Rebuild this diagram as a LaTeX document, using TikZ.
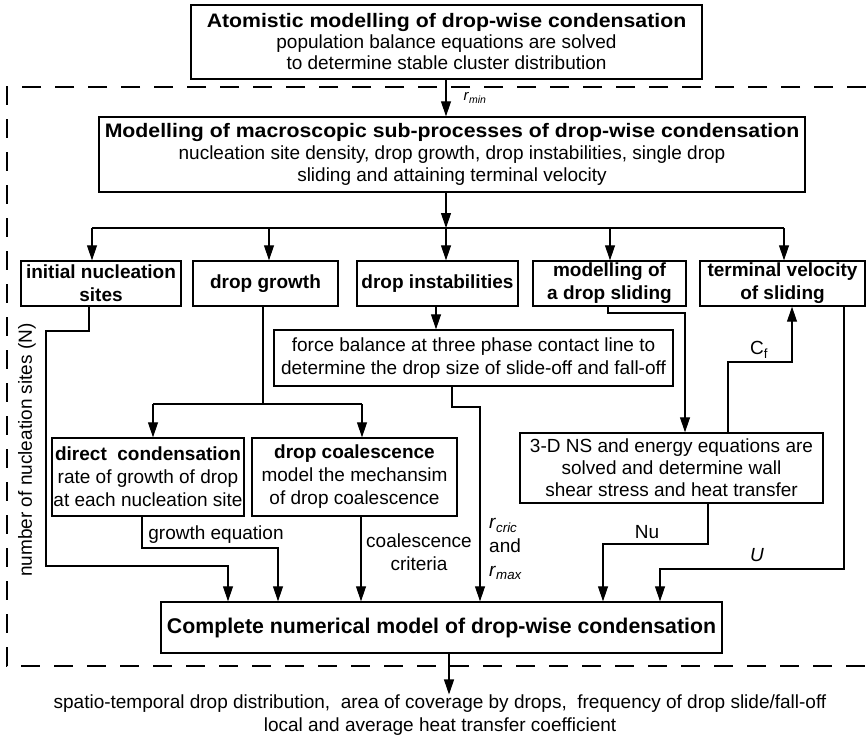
\documentclass[tikz,border=0pt]{standalone}
\usepackage{fontspec}
\setmainfont{Liberation Sans}
\newfontfamily\wideb{Liberation Sans}[FakeStretch=1.09]
\usetikzlibrary{arrows.meta}
\begin{document}
\begin{tikzpicture}[x=1pt,y=-1pt,
  box/.style={draw,line width=1.4pt,inner sep=0pt,align=center,font=\fontsize{19}{21}\selectfont},
  bbox/.style={box,font=\fontsize{19}{23}\selectfont\bfseries},
  conn/.style={line width=1.1pt},
  arr/.style={conn,-{Triangle[length=15pt,width=10pt]}},
  lbl/.style={font=\fontsize{19}{23}\selectfont,align=center,inner sep=0pt},
  frame/.style={line width=1.3pt,dash pattern=on 19pt off 14pt}]
\useasboundingbox (0,0) rectangle (866,740);

% dashed frame
\draw[frame] (866,87) -- (7,87) -- (7,666) -- (866,666);

% boxes
\node[box,minimum width=511pt,minimum height=74pt] (top) at (446.5,42)
  {{\wideb\bfseries\fontsize{19.5}{21}\selectfont Atomistic modelling of drop-wise condensation}\\population balance equations are solved\\to determine stable cluster distribution};
\node[box,minimum width=706pt,minimum height=75pt,font=\fontsize{19}{22}\selectfont] (second) at (452,154.5)
  {{\wideb\bfseries\fontsize{19.5}{26}\selectfont Modelling of macroscopic sub-processes of drop-wise condensation}\\nucleation site density, drop growth, drop instabilities, single drop\\sliding and attaining terminal velocity};
\node[bbox,minimum width=160pt,minimum height=45pt] (init) at (101,283.5) {initial nucleation\\sites};
\node[bbox,minimum width=145pt,minimum height=45pt] (growth) at (265.5,283.5) {drop growth};
\node[bbox,minimum width=161pt,minimum height=45pt] (instab) at (437.5,283.5) {drop instabilities};
\node[bbox,minimum width=153pt,minimum height=45pt] (slide) at (609.5,283.5) {modelling of\\a drop sliding};
\node[bbox,minimum width=165pt,minimum height=45pt] (term) at (782.5,283.5) {terminal velocity\\of sliding};
\node[box,minimum width=399pt,minimum height=56pt,font=\fontsize{19}{23}\selectfont] (force) at (473.5,358)
  {force balance at three phase contact line to\\determine the drop size of slide-off and fall-off};
\node[box,minimum width=192pt,minimum height=78pt,font=\fontsize{19}{23}\selectfont] (direct) at (148,477)
  {\textbf{direct\ \ condensation}\\rate of growth of drop\\at each nucleation site};
\node[box,minimum width=205pt,minimum height=78pt,font=\fontsize{19}{23}\selectfont] (coal) at (354.5,477)
  {\textbf{drop coalescence}\\model the mechansim\\of drop coalescence};
\node[box,minimum width=303pt,minimum height=70pt,font=\fontsize{19}{22}\selectfont] (ns) at (671.5,468)
  {3-D NS and energy equations are\\solved and determine wall\\shear stress and heat transfer};
\node[box,minimum width=561pt,minimum height=51pt,font=\fontsize{21.3}{24}\selectfont\bfseries] (complete) at (441.5,627.5)
  {Complete numerical model of drop-wise condensation};
\node[lbl] (out) at (440,715)
  {spatio-temporal drop distribution,\ \ area of coverage by drops,\ \ frequency of drop slide/fall-off\\local and average heat transfer coefficient};

% x positions
\coordinate (xa) at (446,0);
\coordinate (xi) at (436,0);
\coordinate (xn) at (89,0);
\coordinate (xg) at (263,0);
\coordinate (xd1) at (153,0);
\coordinate (xd2) at (362,0);
\coordinate (xdc) at (142,0);
\coordinate (xcs) at (361,0);
\coordinate (xf) at (452,0);
\coordinate (xs) at (608,0);
\coordinate (xcf) at (728,0);
\coordinate (xnu) at (708,0);
\coordinate (xu) at (844,0);
\coordinate (xo) at (449,0);
\coordinate (c1) at (228,0);
\coordinate (c2) at (278,0);
\coordinate (c4) at (480,0);
\coordinate (c5) at (603,0);
\coordinate (c6) at (660,0);
\coordinate (tc) at (792,0);
\coordinate (nsc) at (685,0);

% top connectors
\draw[arr] (top.south -| xa) -- (second.north -| xa);
\node[inner sep=0pt,font=\fontsize{15}{15}\selectfont] (rmin) at (475,98) {\textit{r}\textsubscript{\textit{min}}};
\coordinate (hub) at (446,228);
\coordinate (dl) at (92,228);
\coordinate (d2) at (269,228);
\coordinate (d4) at (610,228);
\coordinate (dr) at (784,228);
\draw[arr] (second.south -| xa) -- (hub);
\draw[conn] (dl) -- (dr);
\draw[arr] (dl) -- (dl |- init.north);
\draw[arr] (d2) -- (d2 |- growth.north);
\draw[arr] (hub) -- (hub |- instab.north);
\draw[arr] (d4) -- (d4 |- slide.north);
\draw[arr] (dr) -- (dr |- term.north);

% instabilities -> force balance
\draw[arr] (instab.south -| xi) -- (force.north -| xi);

% initial nucleation sites -> complete
\draw[arr] (init.south -| xn) -- (89,331) -| (46,566) -| (complete.north -| c1);
\node[lbl,rotate=90] (nlab) at (27,450) {number of nucleation sites (N)};

% drop growth -> direct / coalescence
\draw[conn] (growth.south -| xg) -- (263,404);
\draw[conn] (153,404) -- (362,404);
\draw[arr] (153,404) -- (direct.north -| xd1);
\draw[arr] (362,404) -- (coal.north -| xd2);

% direct -> complete
\draw[arr] (direct.south -| xdc) |- (278,548) -- (complete.north -| c2);
\node[lbl] (ge) at (216,535) {growth equation};

% coalescence -> complete
\draw[arr] (coal.south -| xcs) -- (complete.north -| xcs);
\node[lbl] (cc) at (419,552) {coalescence\\criteria};

% force balance -> complete
\draw[arr] (force.south -| xf) |- (480,407) -- (complete.north -| c4);
\node[lbl,anchor=west,font=\fontsize{19}{24}\selectfont,align=left] (rc) at (489,549)
  {\textit{r}\textsubscript{\textit{cric}}\\and\\\textit{r}\textsubscript{\textit{max}}};

% sliding -> NS
\draw[arr] (slide.south -| xs) |- (685,313) -- (ns.north -| nsc);

% NS -> terminal velocity
\draw[arr] (ns.north -| xcf) |- (792,362) -- (term.south -| tc);
\node[lbl] (cf) at (759,350) {C\textsubscript{f}};

% NS -> complete (Nu)
\draw[arr] (ns.south -| xnu) |- (603,544) -- (complete.north -| c5);
\node[lbl] (nu) at (647,532) {Nu};

% terminal velocity -> complete (U)
\draw[arr] (term.south -| xu) |- (660,569) -- (complete.north -| c6);
\node[lbl] (ul) at (757,555) {\textit{U}};

% complete -> output
\draw[arr] (complete.south -| xo) -- (out.north -| xo);
\end{tikzpicture}
\end{document}
